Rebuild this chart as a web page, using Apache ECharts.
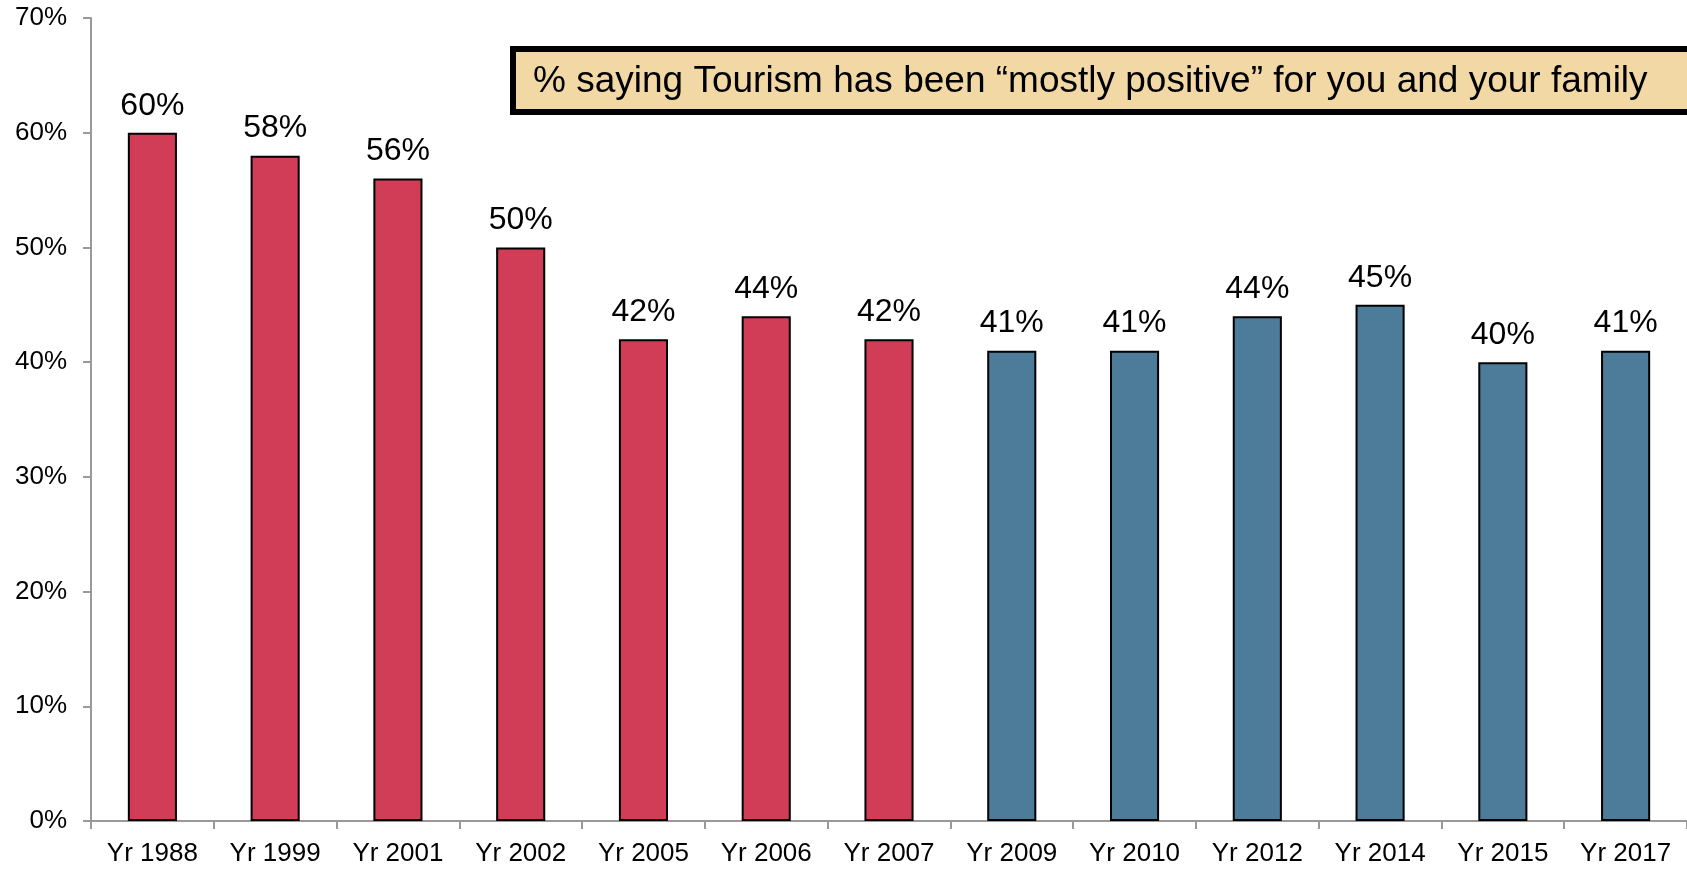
<!DOCTYPE html>
<html><head><meta charset="utf-8">
<script src="https://cdn.jsdelivr.net/npm/echarts@6/dist/echarts.min.js"></script>
<style>html,body{margin:0;padding:0;background:#fff}#c{width:1687px;height:869px}</style>
</head><body><div id="c"></div>
<script>
const categories = ['Yr 1988','Yr 1999','Yr 2001','Yr 2002','Yr 2005','Yr 2006','Yr 2007','Yr 2009','Yr 2010','Yr 2012','Yr 2014','Yr 2015','Yr 2017'];
const values = [60,58,56,50,42,44,42,41,41,44,45,40,41];
const redCount = 7;
const colors = {red:'#D13C56', blue:'#4D7C9A'};
const boxText = '% saying Tourism has been \u201cmostly positive\u201d for you and your family';
const font = 'Liberation Sans, Arial, sans-serif';

const chart = echarts.init(document.getElementById('c'));
chart.setOption({
  animation:false,
  grid:{left:91, top:18, bottom:48, right:-9, containLabel:false},
  xAxis:{type:'category', data:categories,
    axisLine:{lineStyle:{color:'#999', width:2}},
    axisTick:{show:true, length:8, lineStyle:{color:'#999', width:2}, alignWithLabel:false},
    axisLabel:{color:'#000', fontSize:26, fontFamily:font, margin:20, interval:0}},
  yAxis:{type:'value', min:0, max:70, interval:10,
    axisLine:{show:true, lineStyle:{color:'#999', width:2}},
    axisTick:{show:true, length:8, lineStyle:{color:'#999', width:2}},
    splitLine:{show:false},
    axisLabel:{color:'#000', fontSize:26, fontFamily:font, margin:24, formatter:'{value}%'}},
  series:[{type:'bar', barWidth:'40%',
    data: values.map((v,i)=>({value:v, itemStyle:{color: i<redCount?colors.red:colors.blue}})),
    itemStyle:{borderColor:'#000', borderWidth:2},
    label:{show:true, position:'top', distance:11, color:'#000', fontSize:32, fontFamily:font, formatter:'{c}%'}}],
  graphic:[
    {type:'rect', shape:{x:513, y:49, width:1300, height:63}, style:{fill:'#F1D8A5', stroke:'#000', lineWidth:6}, z:10},
    {type:'text', x:533, y:82, style:{text:boxText, fill:'#000', fontSize:37, fontFamily:font, verticalAlign:'middle'}, z:11}
  ]
});
</script></body></html>
